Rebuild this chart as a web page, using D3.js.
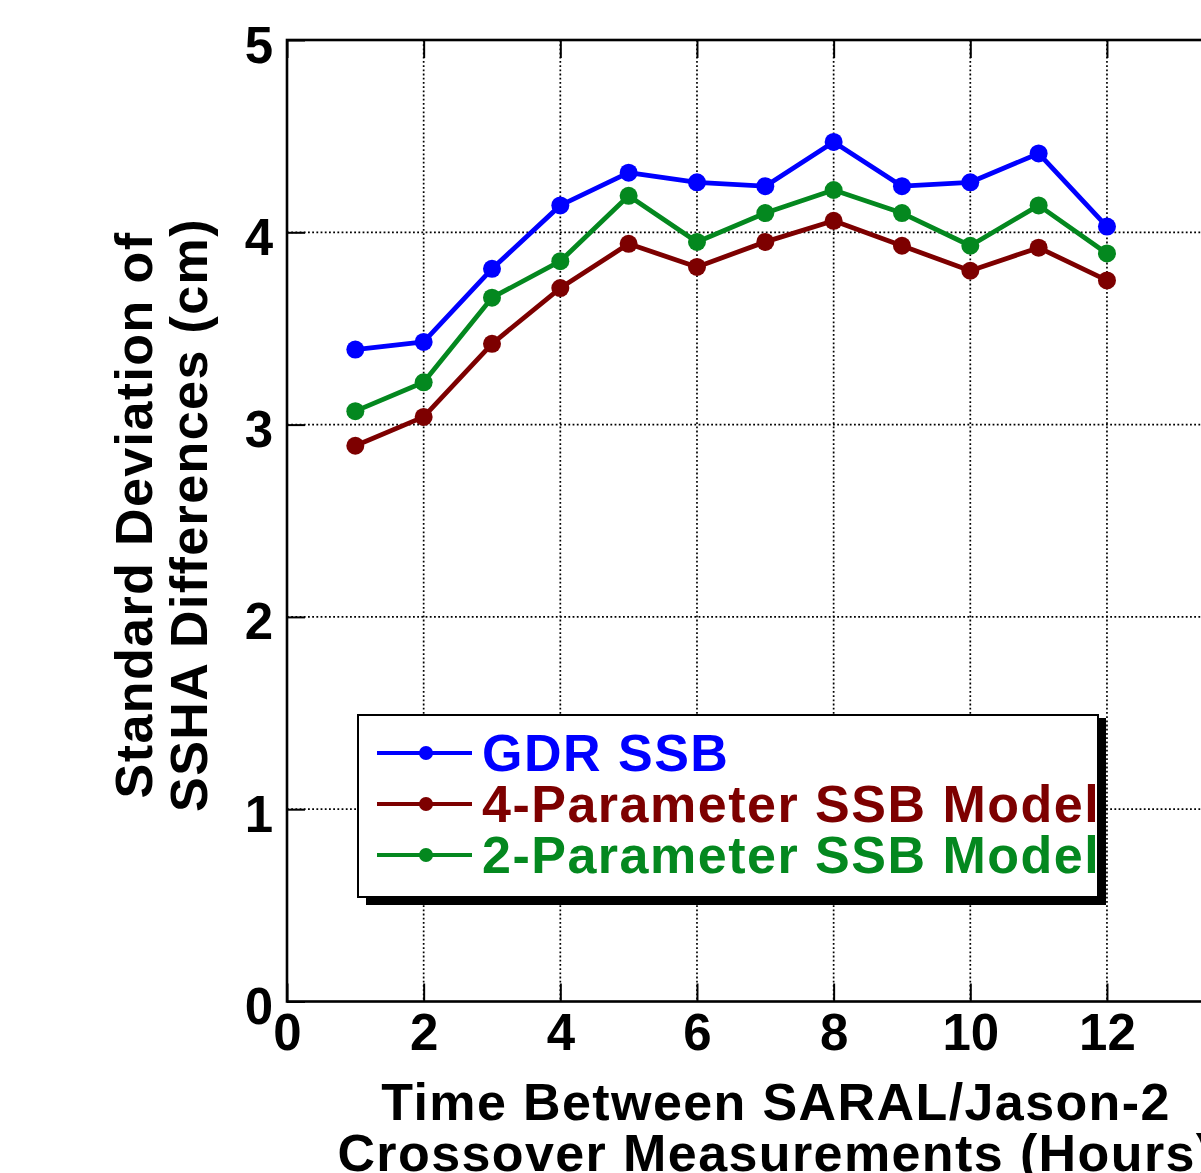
<!DOCTYPE html>
<html>
<head>
<meta charset="utf-8">
<script src="https://cdn.jsdelivr.net/npm/d3@7"></script>
<style>
  html, body { margin: 0; padding: 0; background: #fff; overflow: hidden; }
  svg { display: block; }
  text { font-family: "Liberation Sans", Arial, Helvetica, sans-serif; font-weight: bold; }
</style>
</head>
<body>
<svg id="chart" width="1201" height="1173"></svg>
<script>
// Crossover time separation (hours)
const hours = [1, 2, 3, 4, 5, 6, 7, 8, 9, 10, 11, 12];
// Standard deviation of SSHA differences (cm) for each SSB solution
const gdrSSB   = [3.39, 3.43, 3.81, 4.14, 4.31, 4.26, 4.24, 4.47, 4.24, 4.26, 4.41, 4.03];
const fourParm = [2.89, 3.04, 3.42, 3.71, 3.94, 3.82, 3.95, 4.06, 3.93, 3.80, 3.92, 3.75];
const twoParm  = [3.07, 3.22, 3.66, 3.85, 4.19, 3.95, 4.10, 4.22, 4.10, 3.93, 4.14, 3.89];

const seriesNames  = ["GDR SSB", "4-Parameter SSB Model", "2-Parameter SSB Model"];
const seriesColors = ["#0000ff", "#7d0000", "#04881f"];
const seriesValues = [gdrSSB, fourParm, twoParm];

const xTicks = [0, 2, 4, 6, 8, 10, 12, 14];
const xTickLabels = ["0", "2", "4", "6", "8", "10", "12", ""];
const yTicks = [0, 1, 2, 3, 4, 5];
const yTickLabels = ["0", "1", "2", "3", "4", "5"];
const xTitle = ["Time Between SARAL/Jason-2", "Crossover Measurements (Hours)"];
const yTitle = ["Standard Deviation of", "SSHA Differences (cm)"];

const svg = d3.select("#chart");

const plotLeft = 287, plotTop = 40, plotBottom = 1001.5;
const unitX = 68.33;
const plotRight = plotLeft + 14 * unitX;

const x = d3.scaleLinear().domain([0, 14]).range([plotLeft, plotRight]);
const y = d3.scaleLinear().domain([0, 5]).range([plotBottom, plotTop]);

// dotted grid
const grid = svg.append("g").attr("stroke", "#000").attr("stroke-width", 1.7)
  .attr("stroke-dasharray", "1.8,2.4").attr("fill", "none");
xTicks.filter(v => v > 0).forEach(v => {
  grid.append("line").attr("x1", x(v)).attr("x2", x(v)).attr("y1", plotTop).attr("y2", plotBottom);
});
yTicks.filter(v => v > 0 && v < 5).forEach(v => {
  grid.append("line").attr("x1", plotLeft).attr("x2", plotRight).attr("y1", y(v)).attr("y2", y(v));
});

// axes: inward ticks on all four sides, box outline
const tickLen = 18;
const axB = d3.axisBottom(x).tickValues(xTicks).tickSize(-tickLen)
  .tickFormat((d, i) => xTickLabels[i]);
const axT = d3.axisTop(x).tickValues(xTicks).tickSize(-tickLen).tickFormat("");
const axL = d3.axisLeft(y).tickValues(yTicks).tickSize(-tickLen)
  .tickFormat((d, i) => yTickLabels[i]);
const axR = d3.axisRight(y).tickValues(yTicks).tickSize(-tickLen).tickFormat("");

function styleAxis(g) {
  g.select(".domain").remove();
  g.selectAll(".tick line").attr("stroke", "#000").attr("stroke-width", 2);
  g.selectAll(".tick text").attr("fill", "#000").style("font-size", "51px")
    .style("font-family", "'Liberation Sans', Arial, sans-serif").style("font-weight", "bold");
}

const gB = svg.append("g").attr("transform", `translate(0,${plotBottom})`).call(axB).call(styleAxis);
gB.selectAll(".tick text").attr("y", 48).attr("dy", 0);
const gT = svg.append("g").attr("transform", `translate(0,${plotTop})`).call(axT).call(styleAxis);
const gL = svg.append("g").attr("transform", `translate(${plotLeft},0)`).call(axL).call(styleAxis);
gL.selectAll(".tick text").attr("x", -14).attr("dy", 0).attr("y", 22);
const gR = svg.append("g").attr("transform", `translate(${plotRight},0)`).call(axR).call(styleAxis);

svg.append("rect").attr("x", plotLeft).attr("y", plotTop)
  .attr("width", plotRight - plotLeft).attr("height", plotBottom - plotTop)
  .attr("fill", "none").attr("stroke", "#000").attr("stroke-width", 2.6);

// series lines with dot markers
const line = d3.line().x((d, i) => x(hours[i])).y(d => y(d));
seriesValues.forEach((vals, k) => {
  const g = svg.append("g");
  g.append("path").datum(vals).attr("d", line)
    .attr("fill", "none").attr("stroke", seriesColors[k]).attr("stroke-width", 4.8)
    .attr("stroke-linejoin", "round");
  g.selectAll("circle").data(vals).join("circle")
    .attr("cx", (d, i) => x(hours[i])).attr("cy", d => y(d)).attr("r", 9)
    .attr("fill", seriesColors[k]);
});

// legend box with drop shadow
const lg = { x0: 358, y0: 715, x1: 1098, y1: 897 };
svg.append("rect").attr("x", lg.x0 + 8).attr("y", lg.y0 + 3)
  .attr("width", lg.x1 - lg.x0).attr("height", lg.y1 - lg.y0 + 5).attr("fill", "#000");
svg.append("rect").attr("x", lg.x0).attr("y", lg.y0)
  .attr("width", lg.x1 - lg.x0).attr("height", lg.y1 - lg.y0)
  .attr("fill", "#fff").attr("stroke", "#000").attr("stroke-width", 2);
svg.append("clipPath").attr("id", "legendClip").append("rect")
  .attr("x", lg.x0).attr("y", lg.y0).attr("width", lg.x1 - lg.x0 - 1).attr("height", lg.y1 - lg.y0);

const legend = svg.append("g").attr("clip-path", "url(#legendClip)");
const rowY = [753, 804, 855];
seriesNames.forEach((name, k) => {
  const row = legend.append("g").attr("transform", `translate(0,${rowY[k]})`);
  row.append("line").attr("x1", 377).attr("x2", 472).attr("y1", 0).attr("y2", 0)
    .attr("stroke", seriesColors[k]).attr("stroke-width", 4);
  row.append("circle").attr("cx", 426).attr("cy", 0).attr("r", 7).attr("fill", seriesColors[k]);
  row.append("text").attr("x", 482).attr("y", 18).attr("fill", seriesColors[k])
    .style("font-size", "52px").style("letter-spacing", "1.5px").text(name);
});

// axis titles
const xt = svg.append("text").attr("text-anchor", "middle")
  .style("font-size", "52px").style("letter-spacing", "1.4px").attr("fill", "#000");
xt.append("tspan").attr("x", 776).attr("y", 1120).text(xTitle[0]);
xt.append("tspan").attr("x", 776).attr("y", 1171).text(xTitle[1]);

const yt = svg.append("g").attr("transform", "translate(0,515) rotate(-90)");
yt.append("text").attr("text-anchor", "middle").attr("x", 0).attr("y", 152)
  .style("font-size", "52px").style("letter-spacing", "1.4px").text(yTitle[0]);
yt.append("text").attr("text-anchor", "middle").attr("x", 0).attr("y", 207)
  .style("font-size", "52px").style("letter-spacing", "1.4px").text(yTitle[1]);
</script>
</body>
</html>
